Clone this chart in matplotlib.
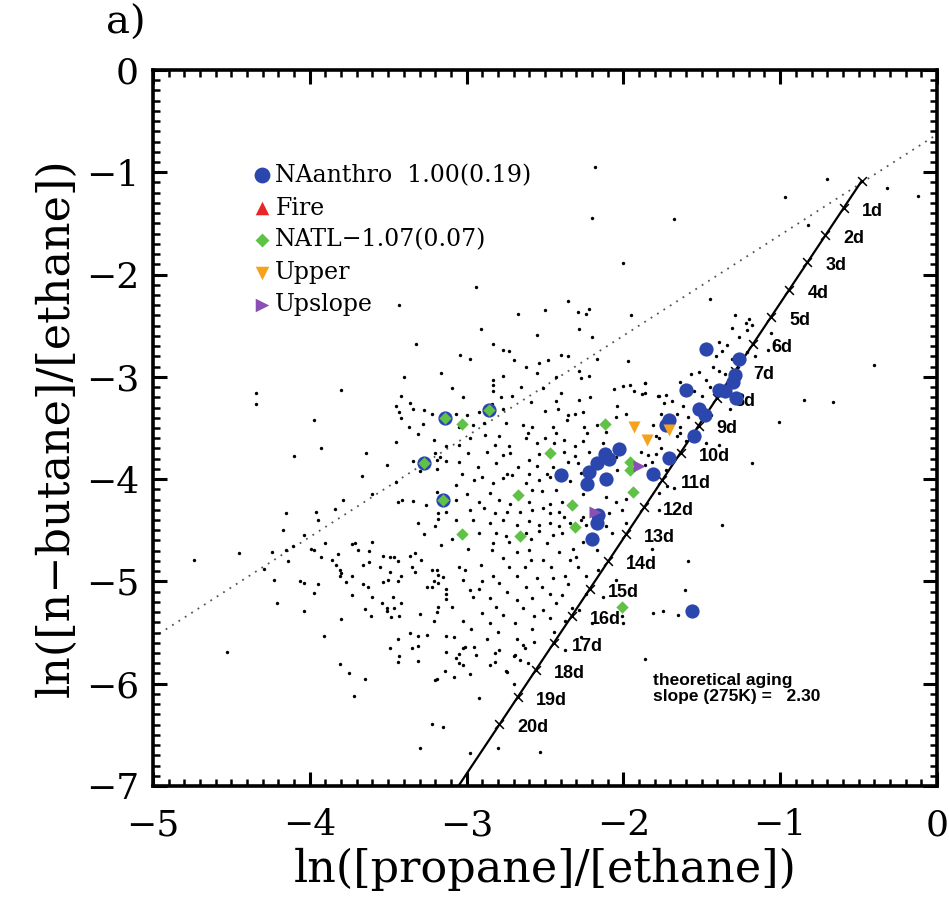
import numpy as np
import matplotlib.pyplot as plt
from matplotlib.ticker import MultipleLocator

plt.rcParams["font.family"] = ["DejaVu Serif"]

# background samples (ln propane/ethane, ln n-butane/ethane)
bg_points = [
    # upper-left cluster
    (-3.43, -2.30), (-3.32, -2.68), (-3.16, -2.96), (-3.40, -3.00), (-4.34, -3.16), (-4.34, -3.27),
    (-3.80, -3.13), (-3.42, -3.19), (-3.36, -3.26), (-3.45, -3.29), (-3.43, -3.34), (-3.34, -3.31),
    (-3.27, -3.32), (-3.22, -3.36), (-3.42, -3.40), (-3.28, -3.46), (-3.37, -3.49), (-3.31, -3.56),
    (-3.97, -3.42), (-3.21, -3.62), (-3.45, -3.64), (-3.13, -3.68), (-3.93, -3.70), (-3.64, -3.74),
    (-4.10, -3.77), (-3.20, -3.74), (-3.17, -3.78), (-3.19, -3.81), (-3.34, -3.82), (-3.51, -3.86),
    (-3.13, -3.82), (-3.19, -3.90), (-3.30, -3.92), (-3.67, -3.97),
    # upper middle
    (-2.94, -2.12), (-2.35, -2.26), (-2.67, -2.39), (-2.50, -2.35), (-2.29, -2.37), (-2.24, -2.39),
    (-2.22, -2.34), (-1.95, -2.40), (-2.91, -2.53), (-2.28, -2.53), (-2.55, -2.59), (-2.20, -2.61),
    (-2.83, -2.68), (-2.77, -2.74), (-2.73, -2.75), (-3.04, -2.79), (-2.98, -2.83), (-2.70, -2.84),
    (-2.62, -2.90), (-2.54, -2.86), (-2.48, -2.84), (-2.40, -2.79), (-2.35, -2.80), (-2.17, -2.83),
    (-1.97, -2.85), (-2.55, -2.96), (-2.77, -2.99), (-2.43, -3.00), (-2.28, -2.94), (-2.27, -3.01),
    (-2.22, -2.99), (-2.83, -3.03), (-3.09, -3.11), (-2.65, -3.10), (-2.83, -3.08), (-2.51, -3.11),
    (-2.00, -3.09), (-1.96, -3.08), (-1.86, -3.06), (-2.06, -3.12), (-2.40, -3.16), (-2.83, -3.14),
    (-3.02, -3.20), (-2.78, -3.20), (-2.71, -3.19), (-2.21, -3.20), (-2.28, -3.23), (-1.93, -3.14),
    (-1.88, -3.17), (-1.78, -3.19), (-2.59, -3.25), (-2.43, -3.24), (-2.04, -3.29), (-2.84, -3.27),
    (-2.92, -3.34), (-2.77, -3.31), (-2.42, -3.31), (-2.50, -3.33), (-2.35, -3.37), (-2.31, -3.36),
    (-2.26, -3.34), (-1.98, -3.36), (-2.05, -3.39), (-3.00, -3.37), (-3.07, -3.36), (-3.05, -3.49),
    (-2.96, -3.47), (-2.89, -3.45), (-2.75, -3.45), (-2.64, -3.47), (-2.58, -3.49), (-2.45, -3.49),
    (-2.36, -3.42), (-2.25, -3.49), (-2.23, -3.55), (-2.17, -3.47), (-2.11, -3.54), (-2.61, -3.55),
    (-2.50, -3.60), (-2.43, -3.55), (-2.88, -3.57), (-2.79, -3.58), (-2.98, -3.60), (-3.05, -3.67),
    (-2.82, -3.67), (-2.73, -3.68), (-2.62, -3.60), (-2.55, -3.65), (-2.44, -3.65), (-2.38, -3.62),
    (-2.31, -3.68), (-2.26, -3.63), (-2.13, -3.65), (-2.22, -3.73), (-2.38, -3.73), (-2.54, -3.75),
    (-2.72, -3.74), (-2.77, -3.76), (-2.87, -3.73), (-2.99, -3.74), (-2.31, -3.77), (-2.60, -3.81),
    (-2.81, -3.84), (-3.05, -3.83), (-2.93, -3.88), (-2.67, -3.88), (-2.55, -3.87), (-2.45, -3.88),
    (-2.35, -3.83), (-2.29, -3.84), (-2.27, -3.94), (-2.05, -3.78), (-2.01, -3.71), (-2.04, -3.91),
    (-1.89, -3.73), (-1.84, -3.76), (-1.86, -3.86), (-3.03, -3.95), (-2.74, -3.95), (-2.60, -3.95),
    (-2.49, -3.95),
    # along the aging line, upper right
    (-0.70, -1.07), (-0.32, -1.15), (-0.12, -1.23), (-0.97, -1.24), (-1.68, -1.46), (-0.82, -1.52),
    (-1.45, -2.24), (-0.40, -2.88), (-0.85, -3.23), (-0.66, -3.25), (-1.01, -3.44), (-1.29, -2.40),
    (-1.22, -2.47), (-1.20, -2.43), (-1.18, -2.49), (-1.21, -2.54), (-1.26, -2.61), (-1.31, -2.52),
    (-1.06, -2.57), (-1.04, -2.67), (-1.08, -2.74), (-1.34, -2.69), (-1.39, -2.66), (-1.37, -2.75),
    (-1.41, -2.80), (-1.31, -2.83), (-1.21, -2.76), (-1.16, -2.80), (-1.43, -2.90), (-1.39, -2.94),
    (-1.35, -2.97), (-1.52, -2.95), (-1.57, -2.97), (-1.64, -3.05), (-1.47, -3.03), (-1.45, -3.10),
    (-1.55, -3.14), (-1.50, -3.19), (-1.77, -3.19), (-1.73, -3.18), (-1.74, -3.26), (-1.69, -3.24),
    (-1.62, -3.29), (-1.66, -3.36), (-1.59, -3.39), (-1.76, -3.36), (-1.86, -3.06), (-1.86, -3.16),
    (-1.81, -3.47), (-1.64, -3.49), (-1.66, -3.58), (-1.77, -3.60), (-1.60, -3.63), (-1.39, -3.67),
    (-1.47, -3.65), (-1.32, -3.31), (-1.44, -3.37), (-1.79, -3.58), (-1.64, -3.55), (-1.76, -3.70),
    (-1.79, -3.75), (-1.82, -3.83), (-1.73, -3.91), (-1.68, -4.09), (-1.72, -4.07), (-1.77, -4.14),
    (-1.37, -4.45), (-1.18, -3.84), (-1.59, -4.80), (-1.61, -5.08),
    # top, sparse
    (-2.18, -0.95), (-2.20, -1.45), (-2.00, -1.89),
    # lower left
    (-3.45, -4.03), (-3.19, -4.13), (-3.60, -4.15), (-3.79, -4.20), (-3.44, -4.22), (-3.41, -4.20),
    (-3.34, -4.21), (-3.26, -4.25), (-4.15, -4.33), (-3.96, -4.32), (-3.84, -4.29), (-3.95, -4.40),
    (-3.18, -4.33), (-3.18, -4.39), (-3.13, -4.32), (-3.31, -4.43), (-3.20, -4.46), (-4.17, -4.50),
    (-4.04, -4.55), (-3.27, -4.54), (-3.90, -4.62), (-3.73, -4.63), (-3.71, -4.62), (-3.60, -4.61),
    (-3.16, -4.64), (-4.24, -4.71), (-4.15, -4.69), (-4.11, -4.65), (-3.99, -4.68), (-3.97, -4.69),
    (-3.69, -4.69), (-3.62, -4.70), (-3.33, -4.72), (-3.36, -4.75), (-3.93, -4.76), (-3.82, -4.73),
    (-3.53, -4.75), (-3.49, -4.76), (-3.46, -4.76), (-4.14, -4.80), (-3.86, -4.79), (-3.62, -4.81),
    (-3.44, -4.80), (-3.29, -4.79), (-3.83, -4.84), (-3.66, -4.84), (-3.55, -4.86), (-3.35, -4.86),
    (-4.29, -4.88), (-3.81, -4.89), (-3.80, -4.92), (-3.49, -4.91), (-3.33, -4.91), (-3.22, -4.89),
    (-3.19, -4.89), (-3.18, -4.94), (-3.81, -4.95), (-3.73, -4.95), (-3.42, -4.95), (-3.15, -4.96),
    (-4.23, -4.99), (-4.06, -5.00), (-4.04, -5.02), (-3.95, -5.03), (-3.77, -5.01), (-3.53, -5.01),
    (-3.50, -4.99), (-3.44, -5.00), (-3.21, -5.00), (-3.66, -5.03), (-3.63, -5.05), (-3.25, -5.05),
    (-3.22, -5.05), (-3.18, -5.02), (-3.13, -5.07), (-3.97, -5.11), (-3.73, -5.13), (-3.13, -5.12),
    (-3.60, -5.15), (-3.47, -5.15), (-3.13, -5.17), (-4.21, -5.21), (-3.54, -5.21), (-3.42, -5.21),
    (-3.18, -5.25), (-3.65, -5.27), (-3.51, -5.26), (-3.46, -5.26), (-3.51, -5.29), (-4.04, -5.29),
    (-3.19, -5.30), (-3.61, -5.34), (-3.48, -5.35), (-3.43, -5.34), (-3.30, -5.32), (-3.80, -5.37),
    (-3.21, -5.39), (-3.91, -5.53), (-3.36, -5.50), (-3.31, -5.53), (-3.25, -5.52), (-3.13, -5.53),
    (-3.44, -5.56), (-3.49, -5.65), (-3.35, -5.65), (-3.31, -5.63), (-3.13, -5.69), (-3.43, -5.73),
    (-3.31, -5.78), (-3.44, -5.79), (-3.81, -5.81), (-3.14, -5.88), (-3.75, -5.90), (-3.65, -5.95),
    (-3.19, -5.95), (-4.74, -4.79), (-4.45, -4.72), (-4.53, -5.69), (-3.72, -6.12),
    # bottom
    (-3.22, -6.39), (-3.15, -6.42), (-3.30, -6.63), (-3.20, -5.96), (-3.08, -5.93), (-3.07, -5.75),
    (-3.05, -5.71), (-3.02, -5.82), (-3.02, -5.65), (-2.95, -5.64), (-2.92, -6.14), (-2.98, -6.68),
    (-2.82, -5.70), (-2.82, -5.79), (-2.74, -5.89), (-2.69, -5.72), (-2.66, -5.77), (-2.70, -6.00),
    (-2.64, -5.62), (-2.80, -6.63), (-2.53, -6.67),
    # lower middle, dense
    (-3.07, -4.06), (-2.95, -4.01), (-2.90, -3.98), (-2.83, -4.04), (-2.77, -3.99), (-2.71, -3.96),
    (-2.62, -4.04), (-2.54, -4.01), (-2.47, -3.98), (-2.34, -4.02), (-2.58, -4.11), (-2.52, -4.12),
    (-2.43, -4.11), (-2.85, -4.14), (-3.00, -4.15), (-3.07, -4.20), (-2.92, -4.22), (-2.79, -4.20),
    (-2.72, -4.24), (-2.60, -4.22), (-2.47, -4.24), (-2.39, -4.22), (-2.26, -4.15), (-2.11, -4.17),
    (-2.05, -4.22), (-1.98, -4.19), (-2.98, -4.30), (-2.89, -4.28), (-2.82, -4.33), (-2.74, -4.32),
    (-2.66, -4.32), (-2.58, -4.30), (-2.51, -4.28), (-2.47, -4.33), (-2.41, -4.32), (-2.38, -4.37),
    (-2.26, -4.37), (-2.09, -4.33), (-2.01, -4.30), (-3.07, -4.40), (-2.96, -4.40), (-2.85, -4.43),
    (-2.77, -4.40), (-2.68, -4.45), (-2.60, -4.41), (-2.54, -4.45), (-2.47, -4.43), (-2.41, -4.46),
    (-2.34, -4.43), (-2.27, -4.40), (-2.24, -4.45), (-2.11, -4.46), (-2.07, -4.53), (-1.98, -4.43),
    (-2.92, -4.53), (-2.81, -4.53), (-2.75, -4.56), (-2.62, -4.53), (-2.54, -4.51), (-2.45, -4.55),
    (-2.39, -4.53), (-3.09, -4.59), (-2.83, -4.62), (-2.73, -4.61), (-2.59, -4.59), (-2.49, -4.62),
    (-2.26, -4.61), (-2.99, -4.68), (-2.84, -4.69), (-2.68, -4.71), (-2.60, -4.69), (-2.41, -4.71),
    (-2.32, -4.68), (-2.17, -4.69), (-2.77, -4.77), (-2.59, -4.79), (-2.51, -4.79), (-2.34, -4.79),
    (-2.30, -4.76), (-3.05, -4.86), (-3.01, -4.89), (-2.91, -4.84), (-2.73, -4.86), (-2.63, -4.86),
    (-2.46, -4.86), (-2.29, -4.86), (-2.16, -4.89), (-2.83, -4.95), (-2.68, -4.95), (-2.55, -4.97),
    (-2.45, -4.97), (-2.37, -4.95), (-2.24, -4.95), (-3.02, -4.99), (-2.90, -5.00), (-2.79, -5.02),
    (-2.62, -5.05), (-2.52, -5.05), (-2.35, -5.03), (-2.98, -5.08), (-2.92, -5.07), (-2.74, -5.10),
    (-2.47, -5.12), (-2.39, -5.13), (-2.24, -5.12), (-2.96, -5.15), (-2.85, -5.16), (-2.68, -5.18),
    (-2.58, -5.16), (-2.43, -5.21), (-3.09, -5.25), (-2.81, -5.25), (-2.64, -5.26), (-2.51, -5.28),
    (-2.33, -5.26), (-2.28, -5.28), (-2.90, -5.31), (-2.77, -5.33), (-2.57, -5.34), (-2.47, -5.36),
    (-3.02, -5.39), (-2.85, -5.41), (-2.69, -5.41), (-2.37, -5.39), (-2.97, -5.47), (-2.80, -5.49),
    (-2.58, -5.47), (-2.44, -5.49), (-3.08, -5.54), (-2.87, -5.56), (-2.68, -5.56), (-2.57, -5.59),
    (-3.01, -5.64), (-2.79, -5.67), (-2.63, -5.65), (-2.94, -5.72), (-2.70, -5.73), (-3.05, -5.80),
    (-2.85, -5.82), (-2.61, -5.80), (-2.75, -5.88), (-2.98, -5.91), (-1.82, -4.68), (-1.77, -4.30),
    (-1.95, -4.75), (-2.05, -4.99), (-2.13, -5.15), (-2.20, -5.41), (-2.27, -5.54), (-2.37, -5.67),
    # right of the line, lower
    (-1.81, -5.31), (-1.75, -5.29), (-1.65, -5.33), (-2.01, -5.34), (-2.00, -5.41), (-1.86, -5.76),
]

# source categories
anthro_x = [-1.47, -1.26, -1.29, -1.30, -1.60, -1.39, -1.35, -1.28, -1.52, -1.48, -1.71, -1.73, -1.55,
            -1.71, -2.03, -2.12, -2.09, -2.17, -2.22, -2.40, -1.81, -2.23, -2.11, -2.16, -2.17, -2.20,
            -1.56, -3.14, -2.86, -3.27, -3.15]
anthro_y = [-2.73, -2.83, -2.98, -3.05, -3.13, -3.13, -3.14, -3.21, -3.31, -3.37, -3.42, -3.47, -3.58,
            -3.79, -3.71, -3.75, -3.80, -3.84, -3.93, -3.96, -3.95, -4.05, -4.00, -4.35, -4.43, -4.59,
            -5.29, -3.40, -3.32, -3.84, -4.20]
natl_x = [-2.12, -2.47, -1.96, -1.96, -1.94, -2.67, -2.33, -2.31, -2.66, -3.03, -3.03, -2.01,
          -3.14, -2.86, -3.27, -3.15]
natl_y = [-3.46, -3.74, -3.83, -3.91, -4.13, -4.16, -4.25, -4.47, -4.56, -3.46, -4.54, -5.25,
          -3.40, -3.32, -3.84, -4.20]
upper_x = [-1.93, -1.85, -1.71]
upper_y = [-3.49, -3.62, -3.52]
upslope_x = [-1.90, -2.18]
upslope_y = [-3.87, -4.32]

legend_labels = ["NAanthro  1.00(0.19)", "Fire", "NATL\u22121.07(0.07)", "Upper", "Upslope"]
legend_markers = ["o", "^", "D", "v", ">"]
legend_colors = ["#2b47ad", "#e8262a", "#5fc145", "#f7a21c", "#8a4fb5"]

# 1:1 reference line and theoretical aging line (slope 2.30, 275 K)
ref_x = [-5.0, 0.0]
ref_y = [-5.55, -0.63]
aging_slope = 2.30
aging_x0, aging_y0 = -0.48, -1.085
day_step = 0.1155
days = np.arange(0, 21)

fig = plt.figure(figsize=(9.49, 9.05), dpi=100)
ax = fig.add_axes([0.1612, 0.1315, 0.8261, 0.7912])

bg = np.array(bg_points)
ax.scatter(bg[:, 0], bg[:, 1], s=6, color="black", linewidths=0, zorder=2)

ax.plot(ref_x, ref_y, color="#555555", lw=1.3, ls=(0, (1, 3.2)), zorder=1)

day_x = aging_x0 - days * day_step
day_y = aging_y0 + aging_slope * (day_x - aging_x0)
line_x = np.array([aging_x0, aging_x0 - (aging_y0 + 7.0) / aging_slope])
line_y = aging_y0 + aging_slope * (line_x - aging_x0)
ax.plot(line_x, line_y, color="black", lw=1.6, zorder=3)
ax.scatter(day_x, day_y, marker="x", s=40, color="black", linewidths=1.1, zorder=3)
for d, xx, yy in zip(days[1:], day_x[1:], day_y[1:]):
    ax.annotate(f"{d}d", (xx, yy), xytext=(13, -2.5), textcoords="offset points",
                ha="left", va="center", fontsize=13, fontweight="bold",
                family="Liberation Sans", zorder=4)

ax.scatter(anthro_x, anthro_y, marker="o", s=105, color=legend_colors[0], linewidths=0, zorder=5)
ax.scatter(natl_x, natl_y, marker="D", s=40, color=legend_colors[2], linewidths=0, zorder=6)
ax.scatter(upper_x, upper_y, marker="v", s=75, color=legend_colors[3], linewidths=0, zorder=6)
ax.scatter(upslope_x, upslope_y, marker=">", s=75, color=legend_colors[4], linewidths=0, zorder=6)

# legend drawn by hand
leg_y = [0.853, 0.807, 0.763, 0.717, 0.672]
leg_s = [130, 95, 50, 95, 95]
for lab, mk, col, yy, ss in zip(legend_labels, legend_markers, legend_colors, leg_y, leg_s):
    ax.scatter([0.139], [yy], marker=mk, s=ss, color=col, linewidths=0,
               transform=ax.transAxes, clip_on=False, zorder=6)
    ax.text(0.156, yy, lab, transform=ax.transAxes, fontsize=17, va="center", ha="left")

ax.text(-1.81, -5.97, "theoretical aging", fontsize=12.5, fontweight="bold",
        family="Liberation Sans", va="center", ha="left")
ax.text(-1.81, -6.13, "slope (275K) =   2.30", fontsize=12.5, fontweight="bold",
        family="Liberation Sans", va="center", ha="left")

ax.set_xlim(-5, 0)
ax.set_ylim(-7, 0)
ax.set_xticks(range(-5, 1))
ax.set_yticks(range(-7, 1))
ax.xaxis.set_minor_locator(MultipleLocator(0.1))
ax.yaxis.set_minor_locator(MultipleLocator(0.1))
ax.tick_params(which="both", direction="in", top=True, right=True, labelsize=26)
ax.tick_params(which="major", length=10, width=2.2)
ax.tick_params(which="minor", length=5, width=1.8)
ax.tick_params(axis="x", which="major", pad=16)
ax.tick_params(axis="y", which="major", pad=10)
for sp in ax.spines.values():
    sp.set_linewidth(2.6)

ax.set_xlabel("ln([propane]/[ethane])", fontsize=32, labelpad=4)
ax.set_ylabel("ln([n\u2212butane]/[ethane])", fontsize=32, labelpad=6)
fig.text(0.112, 0.995, "a)", fontsize=29, va="top", ha="left")

fig.savefig("out.png", dpi=100)
